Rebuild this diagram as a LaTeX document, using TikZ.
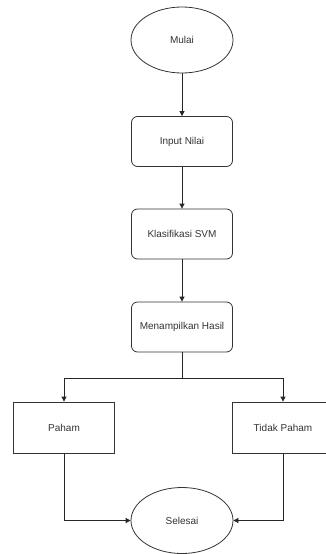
\documentclass[tikz,border=0pt]{standalone}
\usepackage{fontspec}
\setmainfont{Liberation Sans}
\usetikzlibrary{shapes.geometric,arrows.meta}
\begin{document}
\begin{tikzpicture}[x=1pt,y=-1pt,
  lbl/.style={font=\fontsize{10}{12}\selectfont, text=black!80},
  rbox/.style={draw=black!80, line width=0.8pt, rounded corners=6pt, minimum width=101pt, minimum height=50pt, inner sep=0pt, lbl},
  sbox/.style={draw=black!80, line width=0.8pt, minimum width=101pt, minimum height=51pt, inner sep=0pt, lbl},
  term/.style={draw=black!80, line width=0.8pt, ellipse, minimum width=102pt, minimum height=66pt, inner sep=0pt, lbl},
  conn/.style={draw=black!85, line width=0.8pt, -{Triangle[length=5pt,width=5pt]}}]
\useasboundingbox (0,0) rectangle (325,554);
\node[term] (mulai) at (182,40) {Mulai};
\node[rbox] (input) at (182,141.5) {Input Nilai};
\node[rbox] (svm) at (182,234) {Klasifikasi SVM};
\node[rbox] (hasil) at (182,327) {Menampilkan Hasil};
\node[sbox] (paham) at (64,427.5) {Paham};
\node[sbox] (tidak) at (283,427.5) {Tidak Paham};
\node[term] (selesai) at (182,520.5) {Selesai};
\coordinate (split) at (182,378);
\draw[conn] (mulai) -- (input);
\draw[conn] (input) -- (svm);
\draw[conn] (svm) -- (hasil);
\draw[line width=0.8pt, black!85] (hasil.south) -- (split);
\draw[conn] (split) -| (paham.north);
\draw[conn] (split) -| (tidak.north);
\draw[conn] (paham.south) |- (selesai.west);
\draw[conn] (tidak.south) |- (selesai.east);
\end{tikzpicture}
\end{document}
